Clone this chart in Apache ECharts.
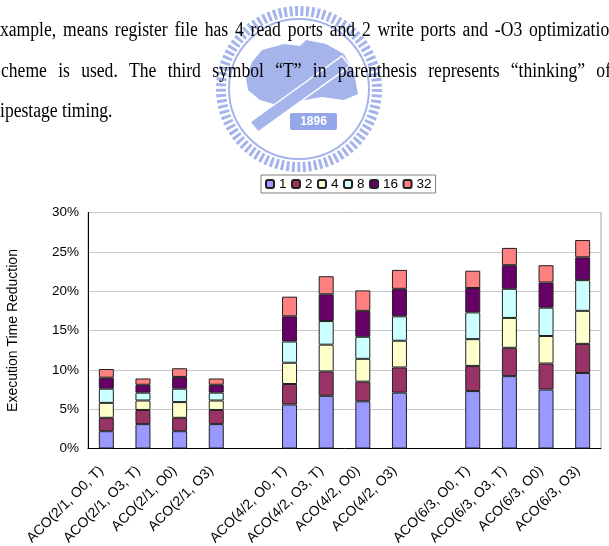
<!DOCTYPE html>
<html>
<head>
<meta charset="utf-8">
<script src="https://cdn.jsdelivr.net/npm/echarts@6/dist/echarts.min.js"></script>
<style>
  html, body { margin: 0; padding: 0; background: #fff; }
  #main { width: 609px; height: 546px; }
</style>
</head>
<body>
<div id="main"></div>
<script>
// categories (empty slots are the gaps between groups)
const categories = ['ACO(2/1, O0, T)', 'ACO(2/1, O3, T)', 'ACO(2/1, O0)', 'ACO(2/1, O3)', '',
    'ACO(4/2, O0, T)', 'ACO(4/2, O3, T)', 'ACO(4/2, O0)', 'ACO(4/2, O3)', '',
    'ACO(6/3, O0, T)', 'ACO(6/3, O3, T)', 'ACO(6/3, O0)', 'ACO(6/3, O3)'];
const legendNames = ['1', '2', '4', '8', '16', '32'];
// execution time reduction (%) per segment
const s1 = [2.2, 3.1, 2.2, 3.1, '-', 5.6, 6.7, 6.0, 7.1, '-', 7.3, 9.2, 7.5, 9.6];
const s2 = [1.7, 1.8, 1.7, 1.8, '-', 2.6, 3.1, 2.5, 3.2, '-', 3.2, 3.6, 3.3, 3.7];
const s4 = [1.9, 1.2, 2.0, 1.2, '-', 2.7, 3.4, 2.9, 3.4, '-', 3.4, 3.8, 3.5, 4.2];
const s8 = [1.8, 1.0, 1.7, 1.0, '-', 2.7, 3.0, 2.8, 3.1, '-', 3.4, 3.7, 3.6, 3.9];
const s16 = [1.4, 1.0, 1.5, 1.0, '-', 3.2, 3.4, 3.3, 3.5, '-', 3.1, 3.0, 3.2, 2.9];
const s32 = [1.1, 0.8, 1.1, 0.8, '-', 2.5, 2.3, 2.6, 2.4, '-', 2.2, 2.2, 2.2, 2.2];

const colors = ['#9999FF', '#993366', '#FFFFCC', '#CCFFFF', '#660066', '#FF8080'];
const allData = [s1, s2, s4, s8, s16, s32];

// thesis text above the chart
const paraLines = [
    { y: 37, x0: 0, x1: 618, justify: true, text: 'xample, means register file has 4 read ports and 2 write ports and -O3 optimization' },
    { y: 78, x0: 1, x1: 611, justify: true, text: 'cheme is used. The third symbol \u201cT\u201d in parenthesis represents \u201cthinking\u201d of' },
    { y: 118, x0: 0, x1: 0, justify: false, text: 'ipestage timing.' }
];

const chart = echarts.init(document.getElementById('main'));

const FS = 20, SX = 0.88, SERIF = '"Liberation Serif", "Times New Roman", serif';
const cv = document.createElement('canvas').getContext('2d');
cv.font = FS + 'px ' + SERIF;

var textEls = [];
paraLines.forEach(function (ln) {
    var words = ln.text.split(' ');
    var widths = words.map(w => cv.measureText(w).width * SX);
    var total = widths.reduce((a, b) => a + b, 0);
    var gap = ln.justify ? (ln.x1 - ln.x0 - total) / (words.length - 1) : cv.measureText(' ').width * SX;
    var x = ln.x0;
    words.forEach(function (w, i) {
        textEls.push({
            type: 'text',
            x: x,
            y: ln.y - 6.5,
            scaleX: SX,
            z: 10,
            style: {
                text: w,
                fill: '#000',
                font: FS + 'px ' + SERIF,
                verticalAlign: 'middle'
            }
        });
        x += widths[i] + gap;
    });
});

// faint university logo watermark
const wm = '#a6b4ec';
var logo = [
    { type: 'circle', shape: { cx: 299, cy: 89, r: 78 }, style: { fill: 'none', stroke: wm, lineWidth: 10, lineDash: [3, 2.5] } },
    { type: 'circle', shape: { cx: 299, cy: 89, r: 70 }, style: { fill: 'none', stroke: wm, lineWidth: 2 } },
    { type: 'polygon', shape: { points: [[246, 78], [252, 62], [262, 50], [284, 44], [300, 46], [306, 40], [326, 44], [344, 54], [354, 72], [358, 94], [344, 100], [322, 97], [300, 101], [280, 106], [260, 100], [248, 90]] }, style: { fill: wm } },
    { type: 'polygon', shape: { points: [[250, 122], [342, 56], [350, 66], [258, 132]] }, style: { fill: wm, stroke: '#fff', lineWidth: 1.5 } },
    { type: 'rect', shape: { x: 290, y: 113, width: 47, height: 17, r: 2 }, style: { fill: '#95a6ea' } },
    { type: 'text', x: 313.5, y: 122, style: { text: '1896', fill: '#fff', font: 'bold 12px "Liberation Sans", Arial', align: 'center', verticalAlign: 'middle' } }
];
logo.forEach(e => { e.z = 1; e.silent = true; });

var series = legendNames.map(function (n, i) {
    return {
        name: n,
        type: 'bar',
        stack: 'total',
        barWidth: 15,
        data: allData[i],
        itemStyle: {
            color: colors[i],
            borderColor: '#202020',
            borderWidth: 1
        }
    };
});

chart.setOption({
    animation: false,
    textStyle: { fontFamily: '"Liberation Sans", Arial, sans-serif' },
    legend: {
        data: legendNames,
        left: 261,
        top: 175,
        padding: [2, 4],
        itemGap: 4.5,
        itemWidth: 8,
        itemHeight: 8,
        borderColor: '#808080',
        borderWidth: 1,
        textStyle: { fontSize: 13.5, color: '#000' }
    },
    grid: {
        left: 88,
        right: 8,
        top: 212.5,
        bottom: 97.5,
        outerBoundsMode: 'none',
        show: true,
        borderColor: '#a0a0a0',
        borderWidth: 1
    },
    xAxis: {
        type: 'category',
        data: categories,
        axisLine: { lineStyle: { color: '#000' } },
        axisTick: { inside: true, length: 5, lineStyle: { color: '#000' } },
        axisLabel: { interval: 0, rotate: 45, fontSize: 14, color: '#000', margin: 15, padding: [0, 7, 0, 0] }
    },
    yAxis: {
        type: 'value',
        min: 0,
        max: 30,
        interval: 5,
        name: 'Execution Time Reduction',
        nameLocation: 'middle',
        nameRotate: 90,
        nameGap: 68,
        nameTextStyle: { fontSize: 14, color: '#000' },
        axisLine: { show: true, lineStyle: { color: '#000' } },
        axisTick: { show: false },
        axisLabel: { formatter: '{value}%', fontSize: 13.5, color: '#000', margin: 9 },
        splitLine: { lineStyle: { color: '#c8c8c8' } }
    },
    graphic: logo.concat(textEls),
    series: series
});
</script>
</body>
</html>
